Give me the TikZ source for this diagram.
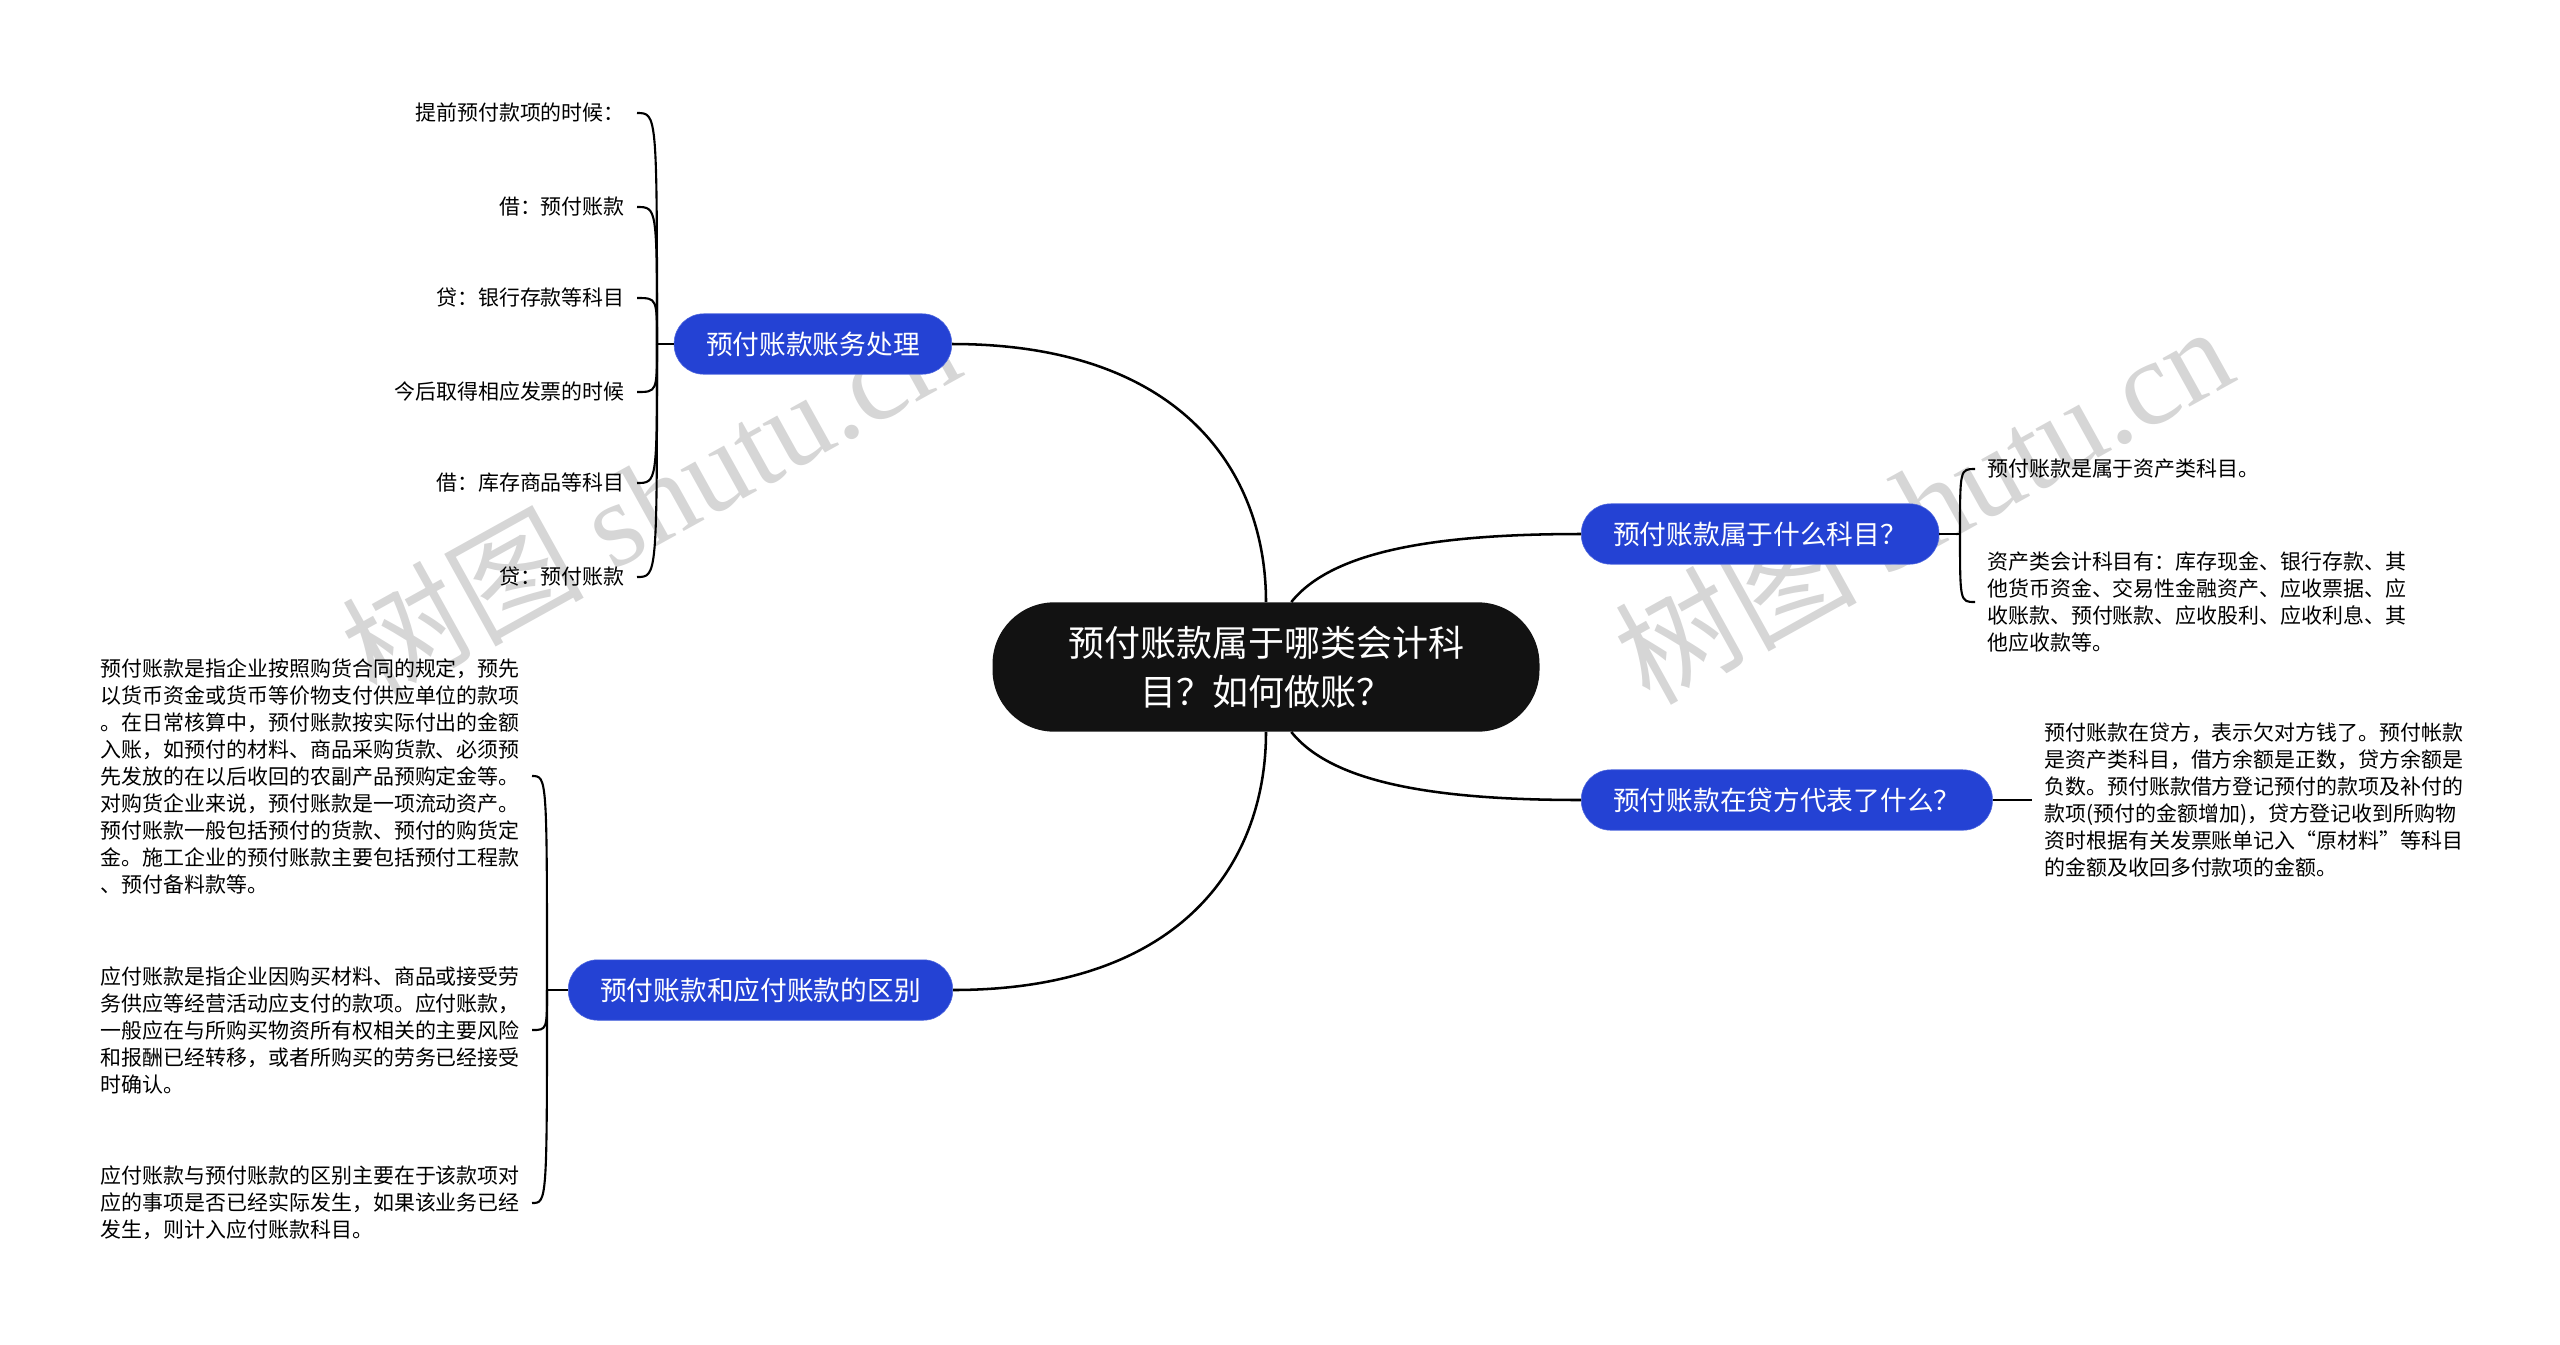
\documentclass[tikz,border=0pt]{standalone}
\usepackage{fontspec}
\setmainfont{Noto Sans CJK SC}
\newfontfamily\wmfont{Liberation Serif}
\usetikzlibrary{positioning}
\definecolor{rootblack}{HTML}{121212}
\definecolor{topicblue}{HTML}{2442D4}
\definecolor{wmgray}{HTML}{D6D6D6}
\tikzset{
  rootnode/.style={rectangle,rounded corners=44pt,fill=rootblack,text=white,
    align=center,minimum width=389pt,minimum height=92pt,
    font=\fontsize{25.6pt}{35pt}\selectfont},
  topicnode/.style={rectangle,rounded corners=21pt,fill=topicblue,draw=topicblue!80!white,
    text=white,inner xsep=22.7pt,minimum height=43pt,font=\fontsize{19pt}{24pt}\selectfont},
  leafnode/.style={align=left,inner xsep=8.5pt,inner ysep=0pt,
    font=\fontsize{14.9pt}{19.2pt}\selectfont},
  link/.style={line width=1.8pt,draw=black},
  sublink/.style={line width=1.5pt,draw=black},
  wmark/.style={text=wmgray,rotate=29,font=\fontsize{86pt}{86pt}\selectfont}
}

\begin{document}
\begin{tikzpicture}[x=0.025cm,y=-0.025cm]
  \useasboundingbox (0,0) rectangle (2560,1344);

  % watermark
  \node[wmark] (wm1) at (650,498) {树图 {\wmfont shutu.cn}};
  \node[wmark] (wm2) at (1923,503) {树图 {\wmfont shutu.cn}};

  \node[rootnode] (root) at (1266,667) {预付账款属于哪类会计科\\目？如何做账？};

  \node[topicnode,anchor=east] (t1) at (952,344) {预付账款账务处理};
  \node[topicnode,anchor=west] (t2) at (1581,534) {预付账款属于什么科目？};
  \node[topicnode,anchor=west] (t3) at (1581,800) {预付账款在贷方代表了什么？};
  \node[topicnode,anchor=east] (t4) at (953,990) {预付账款和应付账款的区别};

  \draw[link] (root.north) .. controls +(0,-130) and +(230,0) .. (t1.east);
  \draw[link] ([xshift=18pt]root.north) .. controls +(40,-50) and +(-150,0) .. (t2.west);
  \draw[link] ([xshift=18pt]root.south) .. controls +(40,50) and +(-150,0) .. (t3.west);
  \draw[link] (root.south) .. controls +(0,130) and +(230,0) .. (t4.east);

  % journal entries
  \node[leafnode,anchor=east] (a1) at (637,113) {提前预付款项的时候：};
  \node[leafnode,anchor=east] (a2) at (637,207) {借：预付账款};
  \node[leafnode,anchor=east] (a3) at (637,298) {贷：银行存款等科目};
  \node[leafnode,anchor=east] (a4) at (637,392) {今后取得相应发票的时候};
  \node[leafnode,anchor=east] (a5) at (637,483) {借：库存商品等科目};
  \node[leafnode,anchor=east] (a6) at (637,577) {贷：预付账款};
  \coordinate (j1) at (657,344);
  \draw[link] (t1.west) -- (j1);
  \foreach \n in {a1,a2,a3,a4,a5,a6}
    \draw[sublink] (j1) .. controls (j1 |- \n.east) and (j1 |- \n.east) .. (\n.east);

  \node[leafnode,anchor=west] (b1) at (1975,469) {预付账款是属于资产类科目。};
  \node[leafnode,anchor=west] (b2) at (1975,602) {资产类会计科目有：库存现金、银行存款、其\\他货币资金、交易性金融资产、应收票据、应\\收账款、预付账款、应收股利、应收利息、其\\他应收款等。};
  \coordinate (j2) at (1960,534);
  \draw[link] (t2.east) -- (j2);
  \foreach \n in {b1,b2}
    \draw[sublink] (j2) .. controls (j2 |- \n.west) and (j2 |- \n.west) .. (\n.west);

  \node[leafnode,right=28pt of t3] (c1) {预付账款在贷方，表示欠对方钱了。预付帐款\\是资产类科目，借方余额是正数，贷方余额是\\负数。预付账款借方登记预付的款项及补付的\\款项(预付的金额增加)，贷方登记收到所购物\\资时根据有关发票账单记入“原材料”等科目\\的金额及收回多付款项的金额。};
  \draw[link] (t3.east) -- (c1.west);

  \node[leafnode,anchor=east] (d1) at (532,776) {预付账款是指企业按照购货合同的规定，预先\\以货币资金或货币等价物支付供应单位的款项\\。在日常核算中，预付账款按实际付出的金额\\入账，如预付的材料、商品采购货款、必须预\\先发放的在以后收回的农副产品预购定金等。\\对购货企业来说，预付账款是一项流动资产。\\预付账款一般包括预付的货款、预付的购货定\\金。施工企业的预付账款主要包括预付工程款\\、预付备料款等。};
  \node[leafnode,anchor=east] (d2) at (532,1030) {应付账款是指企业因购买材料、商品或接受劳\\务供应等经营活动应支付的款项。应付账款，\\一般应在与所购买物资所有权相关的主要风险\\和报酬已经转移，或者所购买的劳务已经接受\\时确认。};
  \node[leafnode,anchor=east] (d3) at (532,1203) {应付账款与预付账款的区别主要在于该款项对\\应的事项是否已经实际发生，如果该业务已经\\发生，则计入应付账款科目。};
  \coordinate (j4) at (547,990);
  \draw[link] (t4.west) -- (j4);
  \foreach \n in {d1,d2,d3}
    \draw[sublink] (j4) .. controls (j4 |- \n.east) and (j4 |- \n.east) .. (\n.east);

\end{tikzpicture}
\end{document}
